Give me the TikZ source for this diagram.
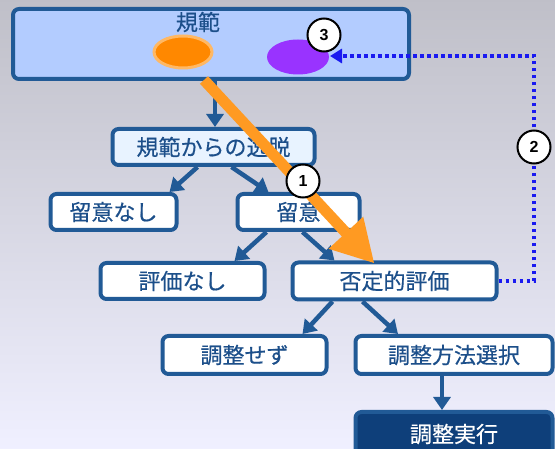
\documentclass[tikz,border=0pt]{standalone}
\usepackage{fontspec}
\setmainfont{Noto Sans CJK JP}[FakeBold=0.5]
\newfontfamily\numfont{Liberation Sans}
\usetikzlibrary{shapes.geometric,arrows.meta,calc}
\definecolor{bord}{HTML}{215A96}
\definecolor{txt}{HTML}{1C4F8A}
\definecolor{topfill}{HTML}{B3CCFF}
\definecolor{devfill}{HTML}{E8F3FF}
\definecolor{navy}{HTML}{0E3F7A}
\definecolor{orng}{HTML}{FF9A22}
\definecolor{orfill}{HTML}{FF8800}
\definecolor{purp}{HTML}{9933FF}
\definecolor{dotblue}{HTML}{1A1AF0}
\tikzset{
  box/.style={draw=bord, line width=4pt, fill=white, rounded corners=6pt,
    text=txt, font=\fontsize{22}{22}\selectfont, inner sep=0pt},
  barrow/.style={draw=bord, line width=4.5pt, -{Triangle[length=13pt,width=17pt]}},
  numc/.style={circle, draw=black, line width=2pt, fill=white, minimum size=33pt,
    inner sep=0pt, font=\numfont\bfseries\fontsize{16}{16}\selectfont},
}
\begin{document}
\begin{tikzpicture}[x=1pt,y=-1pt]
\useasboundingbox (0,0) rectangle (555,449);
\shade[top color=gray!45!blue!8!white!80!black, bottom color=white!94!blue] (0,0) rectangle (555,449);
% top box
\node[box, fill=topfill, minimum width=396pt, minimum height=70pt] (norm) at (211,44) {};
\node[text=txt, font=\fontsize{22}{22}\selectfont, inner sep=0pt] (normlabel) at (198,22) {規範};
\node[ellipse, fill=orfill, draw=orng!70!white, line width=3pt, minimum width=58pt, minimum height=32pt] (oe) at (183,52) {};
\node[ellipse, fill=purp, minimum width=62pt, minimum height=35pt] (pe) at (298,57) {};
\coordinate (dotend) at (330,56);
% boxes
\node[box, fill=devfill, minimum width=202pt, minimum height=36pt] (dev) at (213.5,147) {規範からの逸脱};
\node[box, minimum width=126pt, minimum height=36pt] (nashi) at (113.5,212) {留意なし};
\node[box, minimum width=122pt, minimum height=36pt] (ryui) at (298.5,212) {留意};
\node[box, minimum width=164pt, minimum height=36pt] (hnashi) at (182.5,281) {評価なし};
\node[box, minimum width=204pt, minimum height=37pt] (neg) at (394.5,281) {否定的評価};
\node[box, minimum width=164pt, minimum height=38pt] (sezu) at (244.5,355) {調整せず};
\node[box, minimum width=197pt, minimum height=38pt] (sentaku) at (454,355) {調整方法選択};
\node[box, fill=navy, text=white, minimum width=197pt, minimum height=44pt] (jikko) at (454,434) {調整実行};
% blue arrows
\draw[barrow] ([xshift=4pt]norm.south) -- ([xshift=1.5pt]dev.north);
\draw[barrow] ([xshift=-16pt]dev.south) -- ([xshift=56pt]nashi.north);
\draw[barrow] ([xshift=18pt]dev.south) -- ([xshift=-30pt]ryui.north);
\draw[barrow] ([xshift=-32pt]ryui.south) -- ([xshift=52pt]hnashi.north);
\draw[barrow] ([xshift=4pt]ryui.south) -- ([xshift=-60pt]neg.north);
\draw[barrow] ([xshift=-62pt]neg.south) -- ([xshift=58pt]sezu.north);
\draw[barrow] ([xshift=-32pt]neg.south) -- ([xshift=-56pt]sentaku.north);
\draw[barrow] ([xshift=-12pt]sentaku.south) -- ([xshift=-12pt]jikko.north);
% dotted arrow
\coordinate (twopos) at (534,147);
\draw[dotblue, line width=3.5pt, dash pattern=on 3.5pt off 3.5pt, -{Triangle[length=12pt,width=14pt]}]
  (neg.east) -| (twopos) |- (dotend);
\node[numc] (two) at (twopos) {2};
% orange arrow
\coordinate (ostart) at (204,80);
\draw[orng, line width=11pt, -{Triangle[length=42pt,width=44pt]}] (ostart) -- ([xshift=-20pt,yshift=-3pt]neg.north);
\node[numc] (three) at (324,35) {3};
\node[numc] (one) at (303,181) {1};
\end{tikzpicture}
\end{document}
